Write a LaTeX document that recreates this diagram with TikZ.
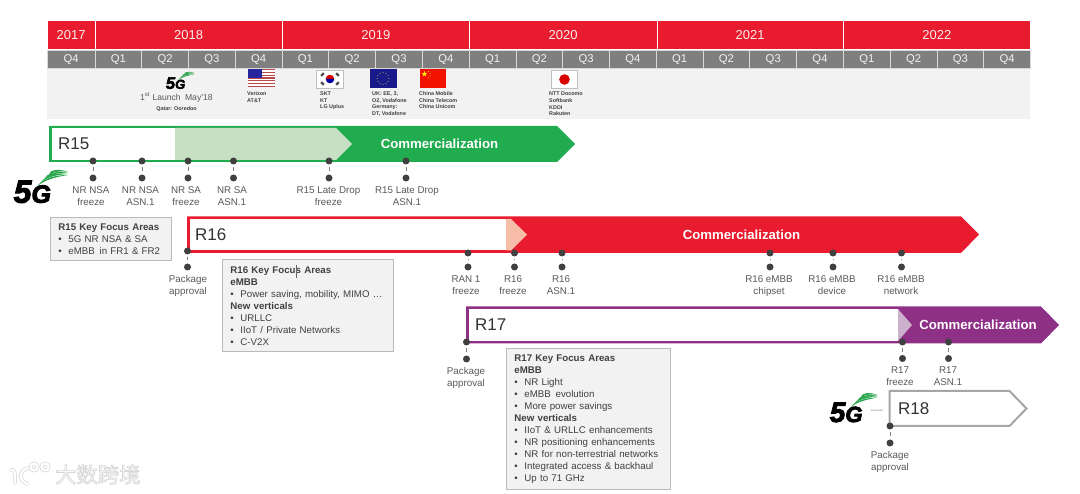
\documentclass[tikz,border=0pt]{standalone}
\usepackage{fontspec}
\setmainfont{Liberation Sans}
\newfontfamily\cjkfont{Noto Sans CJK SC}
\usetikzlibrary{shapes.geometric,calc}
\definecolor{hred}{HTML}{E81C2E}
\definecolor{qgrey}{HTML}{7F7F7F}
\definecolor{panel}{HTML}{F2F2F2}
\definecolor{rgreen}{HTML}{22AC50}
\definecolor{lgreen}{HTML}{C5E0C3}
\definecolor{lpink}{HTML}{F8BDA8}
\definecolor{rpurple}{HTML}{8E3086}
\definecolor{lpurple}{HTML}{CDB0CB}
\definecolor{rgrey}{HTML}{A6A6A6}
\definecolor{dotc}{HTML}{404040}
\definecolor{lab}{HTML}{595959}
\definecolor{ftxt}{HTML}{404040}
\definecolor{logog}{HTML}{2AA64C}
\newcommand{\fsz}[2]{\fontsize{#1}{#2}\selectfont}
\newcommand{\bul}[1]{\makebox[10pt][l]{•}#1}
\tikzset{
  x=1pt,y=-1pt,
  yearcell/.style={fill=hred,draw=white,line width=.8pt,minimum height=29.5pt,text=white!92!hred,font=\fsz{13}{15},inner sep=0pt,anchor=north west},
  qcell/.style={fill=qgrey,draw=white!85!black,line width=.8pt,minimum height=18pt,minimum width=46.85pt,text=white!90!qgrey,font=\fsz{11.3}{13},inner sep=0pt,anchor=north west},
  mini/.style={font=\bfseries\fsz{5.4}{6.6},text=black!75,align=left,anchor=north west,inner sep=0pt},
  rel/.style={font=\fsz{17}{19},text=black!80,anchor=west,inner sep=0pt},
  comm/.style={font=\bfseries\fsz{13.2}{15},text=white,inner sep=0pt},
  msdot/.style={circle,fill=dotc,minimum size=7pt,inner sep=0pt},
  mslink/.style={draw=qgrey,line width=.8pt,shorten <=2.8pt,shorten >=2.8pt},
  mslabel/.style={font=\fsz{9.8}{12},text=lab,align=center,anchor=north,inner sep=0pt},
  focus/.style={fill=panel,draw=black!27,line width=.9pt,font=\fsz{9.7}{12},text=ftxt,align=left,anchor=north west,inner xsep=8pt,inner ysep=0pt},
  flagborder/.style={draw=black!25,line width=.8pt},
}
% milestone: name, dot x, y top, y bottom, label x, label
\newcommand{\ms}[6]{%
  \node[msdot] (#1a) at (#2,#3) {};
  \node[msdot] (#1b) at (#2,#4) {};
  \path[mslink] (#1a) -- (#1b);
  \node[mslabel] (#1t) at (#5,#4+8.5) {#6};
}
% 5G logo; origin = left of the 5, top of the letters
\newcommand{\fivegmark}[4]{%
\begin{scope}[shift={(#2,#3)},scale=#4]
  \node[transform shape,anchor=north west,inner sep=0pt] (#1) at (-.5,.5)
    {\special{pdf:literal 2 Tr 0.9 w}\bfseries\itshape\fsz{32}{32}5\fsz{25}{25}G\special{pdf:literal 0 Tr 0 w}};
  \fill[logog] (23,6.5) .. controls (30,0) and (42,-3) .. (54,-5) .. controls (43,-5) and (32,-2.5) .. (26,3) -- cycle;
  \fill[logog] (27,2) .. controls (33,-3) and (44,-5.5) .. (54,-6) .. controls (44,-7.5) and (35,-6) .. (30,-1) -- cycle;
  \fill[logog] (31,-2) .. controls (37,-6) and (46,-7.5) .. (54,-7) .. controls (46,-8.8) and (38,-8) .. (33.5,-4.8) -- cycle;
  \fill[logog] (35,-5.5) .. controls (40,-8.5) and (47,-9.3) .. (54,-8) .. controls (47,-10.8) and (41,-10.8) .. (37,-8.5) -- cycle;
\end{scope}}
\begin{document}
\begin{tikzpicture}
\useasboundingbox (0,0) rectangle (1080,494);
\fill[white] (0,0) rectangle (1080,494);
% header
\node[yearcell,minimum width=47.5pt] (y17) at (47,20) {2017};
\node[yearcell,minimum width=187.5pt] (y18) at (94.5,20) {2018};
\node[yearcell,minimum width=187pt] (y19) at (282,20) {2019};
\node[yearcell,minimum width=187.5pt] (y20) at (469,20) {2020};
\node[yearcell,minimum width=186.5pt] (y21) at (656.5,20) {2021};
\node[yearcell,minimum width=187pt] (y22) at (843,20) {2022};
\fill[panel] (47,68.5) rectangle (1030,119);
\foreach \i/\q in {1/Q1,2/Q2,3/Q3,4/Q4,5/Q1,6/Q2,7/Q3,8/Q4,9/Q1,10/Q2,11/Q3,12/Q4,13/Q1,14/Q2,15/Q3,16/Q4,17/Q1,18/Q2,19/Q3,20/Q4}{
  \node[qcell] (q\i) at ({94.5+(\i-1)*46.78},50) {\q};
}
\node[qcell,minimum width=47.5pt] (q0) at (47,50) {Q4};
% panel content
\fivegmark{logoa}{166}{77}{.52}
\node[font=\fsz{8.6}{10},text=lab,inner sep=0pt] (launch) at (176.5,97.3) {1\textsuperscript{st} Launch\enspace May'18};
\node[mini,anchor=center] (qatar) at (176.5,109) {Qatar: Ooredoo};
% US flag
\fill[white] (248,69) rectangle (275,87);
\foreach \k in {0,...,6}{\fill[red!60!black!70!white] (248,{69+\k*2.77}) rectangle (275,{69+\k*2.77+1.38});}
\fill[blue!55!black!85!white] (248,69) rectangle (262,78.5);
\node[mini] (us) at (247,91.6) {Verizon\\AT\&T};
% Korea
\draw[flagborder,fill=white] (316.5,70) rectangle (343.5,88);
\fill[red!85!black] (325.7,79) arc[start angle=180,end angle=0,radius=4.3pt] -- cycle;
\fill[blue!65!black] (325.7,79) arc[start angle=180,end angle=360,radius=4.3pt] -- cycle;
\foreach \px/\py/\r in {322.5/74.5/45,337.5/74.5/-45,322.5/83.5/-45,337.5/83.5/45}{
  \draw[black!70,line width=2.2pt] ($(\px,\py)+(\r:-1.8pt)$) -- ($(\px,\py)+(\r:1.8pt)$);
}
\node[mini] (kr) at (320,91.6) {SKT\\KT\\LG Uplus};
% EU
\fill[blue!50!black!90!white] (369.5,69) rectangle (396.5,88);
\foreach \a in {0,30,...,330}{\fill[yellow!80!black] ($(383,78.5)+(\a:5.8pt)$) circle (.5pt);}
\node[mini] (eu) at (372,91.6) {UK: EE, 3,\\O2, Vodafone\\Germany:\\DT, Vodafone};
% China
\fill[red!85!orange!95!black] (419.5,69) rectangle (446,88);
\node[star,star points=5,star point ratio=2.4,fill=yellow!90!orange,inner sep=0pt,minimum size=6pt] (cnstar) at (424.5,74) {};
\foreach \px/\py in {428.5/71.5,430/73.5,430/76,428.5/78}{\fill[yellow!90!orange] (\px,\py) circle (.5pt);}
\node[mini] (cn) at (419,91.6) {China Mobile\\China Telecom\\China Unicom};
% Japan
\draw[flagborder,fill=white] (551.5,70) rectangle (577.5,88);
\fill[red!85!black] (564.5,79.5) circle (5.3pt);
\node[mini] (jp) at (549,92) {NTT Docomo\\Softbank\\KDDI\\Rakuten};
% R15
\fill[rgreen] (49,126) -- (557,126) -- (575,144) -- (557,162) -- (49,162) -- cycle;
\fill[white] (51.5,128) rectangle (175,160);
\fill[lgreen] (175,128) -- (336,128) -- (352,144) -- (336,160) -- (175,160) -- cycle;
\node[rel] (r15) at (58,144) {R15};
\node[comm] (c15) at (439.5,144) {Commercialization};
\ms{a}{93}{161}{178}{91}{NR NSA\\freeze}
\ms{b}{142}{161}{178}{140.5}{NR NSA\\ASN.1}
\ms{c}{188}{161}{178}{186}{NR SA\\freeze}
\ms{d}{233.5}{161}{178}{232}{NR SA\\ASN.1}
\ms{e}{329}{161}{178}{328.5}{R15 Late Drop\\freeze}
\ms{f}{406}{161}{178}{407}{R15 Late Drop\\ASN.1}
\fivegmark{logob}{14}{180}{1}
\node[focus,text width=105pt,minimum height=43pt] (k15) at (50,217) {\textbf{R15 Key Focus Areas}\\\bul{5G NR NSA \& SA}\\\bul{eMBB\, in FR1 \& FR2}};
% R16
\fill[hred] (187,216.5) -- (961,216.5) -- (979,234.5) -- (961,253) -- (187,253) -- cycle;
\fill[white] (189.5,219) rectangle (506,250.5);
\fill[lpink] (506,219) -- (511,219) -- (527,234.5) -- (511,250.5) -- (506,250.5) -- cycle;
\node[rel] (r16) at (195,235) {R16};
\node[comm] (c16) at (741.5,234.5) {Commercialization};
\ms{g}{187.5}{251}{267}{188}{Package\\approval}
\ms{h}{468}{253}{267}{466}{RAN 1\\freeze}
\ms{i}{514.5}{253}{267}{513}{R16\\freeze}
\ms{j}{562}{253}{267}{561}{R16\\ASN.1}
\ms{k}{770}{253}{267}{769}{R16 eMBB\\chipset}
\ms{l}{833}{253}{267}{832}{R16 eMBB\\device}
\ms{m}{901.5}{253}{267}{901}{R16 eMBB\\network}
\node[focus,text width=154.5pt,minimum height=92pt] (k16) at (222,259.5) {\textbf{R16 Key Focus Areas}\\\textbf{eMBB}\\\bul{Power saving, mobility, MIMO …}\\\textbf{New verticals}\\\bul{URLLC}\\\bul{IIoT / Private Networks}\\\bul{C-V2X}};
\draw[black!60,line width=.5pt] (296,265) -- (296,278);
% R17
\fill[rpurple] (466,306.5) -- (1041,306.5) -- (1059,325) -- (1041,343.5) -- (466,343.5) -- cycle;
\fill[white] (468.5,309) rectangle (898,341);
\fill[lpurple] (898,309) -- (912,325) -- (898,341) -- cycle;
\node[rel] (r17) at (475,325) {R17};
\node[comm] (c17) at (978,325) {Commercialization};
\ms{n}{466.5}{342}{359}{466}{Package\\approval}
\ms{o}{902.5}{342}{358.5}{900}{R17\\freeze}
\ms{p}{948.5}{342}{358.5}{948}{R17\\ASN.1}
\node[focus,text width=147.5pt,minimum height=140pt] (k17) at (506,348.5) {\textbf{R17 Key Focus Areas}\\\textbf{eMBB}\\\bul{NR Light}\\\bul{eMBB\, evolution}\\\bul{More power savings}\\\textbf{New verticals}\\\bul{IIoT \& URLLC enhancements}\\\bul{NR positioning enhancements}\\\bul{NR for non-terrestrial networks}\\\bul{Integrated access \& backhaul}\\\bul{Up to 71 GHz}};
% R18
\draw[rgrey,line width=2pt,fill=white] (889.5,391) -- (1009.5,391) -- (1026.5,408.5) -- (1009.5,426) -- (889.5,426) -- cycle;
\node[rel] (r18) at (898,408.5) {R18};
\ms{q}{890}{426}{443}{890}{Package\\approval}
\fivegmark{logoc}{830}{402}{.88}
\node[font=\fsz{2.2}{3},text=black!60,inner sep=0pt] (adv) at (877,411) {ADVANCED};
% watermark
\foreach \l/\c in {3.8/black!14,2.2/white}{
  \draw[\c,line width=\l pt,line cap=round] (11,470) .. controls (15,468) and (15,474) .. (15,483);
  \draw[\c,line width=\l pt,line cap=round] (28,468) .. controls (19,470) and (18,481) .. (28,484);
  \draw[\c,line width=\l pt] (34,467) circle (3.5pt);
  \draw[\c,line width=\l pt] (45,467) circle (3.5pt);
}
\node[font=\cjkfont\fsz{21.3}{23},text=white,inner sep=0pt,anchor=west] (wm) at (55,474.5) {\special{pdf:literal 2 Tr 0.7 w 0.84 G}大数跨境\special{pdf:literal 0 Tr 0 w 0 G}};
\end{tikzpicture}
\end{document}
